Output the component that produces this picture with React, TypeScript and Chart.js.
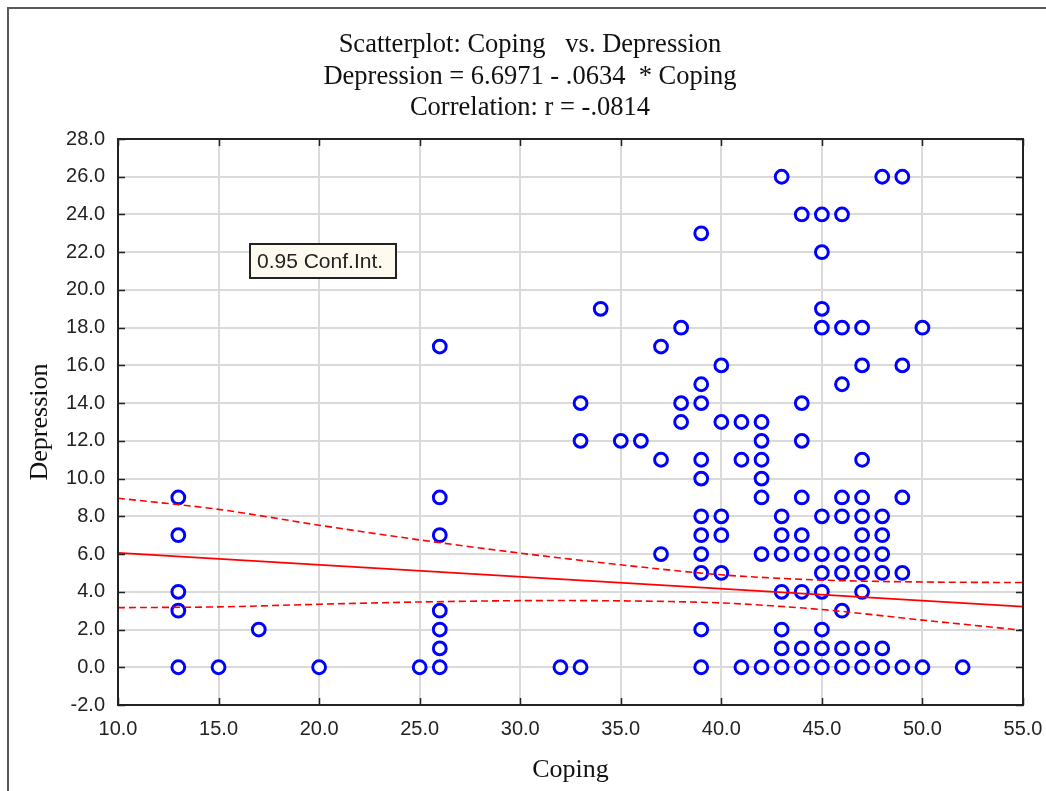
import { useEffect, useRef } from "react";
import { Chart, registerables } from "chart.js";

Chart.register(...registerables);

// Header and axis text
const titleLines = [
  "Scatterplot: Coping   vs. Depression",
  "Depression = 6.6971 - .0634  * Coping",
  "Correlation: r = -.0814",
];
const xAxisTitle = "Coping";
const yAxisTitle = "Depression";
const bandLabel = "0.95 Conf.Int.";

// Observations (paired by index)
const coping = [
  13, 13, 13, 13, 13,
  15, 17, 20, 25,
  26, 26, 26, 26, 26, 26, 26,
  32, 33, 33, 33, 34, 35, 36,
  37, 37, 37,
  38, 38, 38,
  39, 39, 39, 39, 39, 39, 39, 39, 39, 39, 39,
  40, 40, 40, 40, 40,
  41, 41, 41,
  42, 42, 42, 42, 42, 42, 42,
  43, 43, 43, 43, 43, 43, 43, 43,
  44, 44, 44, 44, 44, 44, 44, 44, 44,
  45, 45, 45, 45, 45, 45, 45, 45, 45, 45, 45,
  46, 46, 46, 46, 46, 46, 46, 46, 46, 46,
  47, 47, 47, 47, 47, 47, 47, 47, 47, 47, 47,
  48, 48, 48, 48, 48, 48, 48,
  49, 49, 49, 49, 49,
  50, 50, 52,
];
const depression = [
  0, 3, 4, 7, 9,
  0, 2, 0, 0,
  0, 1, 2, 3, 7, 9, 17,
  0, 0, 12, 14, 19, 12, 12,
  6, 11, 17,
  13, 14, 18,
  0, 2, 5, 6, 7, 8, 10, 11, 14, 15, 23,
  5, 7, 8, 13, 16,
  0, 11, 13,
  0, 6, 9, 10, 11, 12, 13,
  0, 1, 2, 4, 6, 7, 8, 26,
  0, 1, 4, 6, 7, 9, 12, 14, 24,
  0, 1, 2, 4, 5, 6, 8, 18, 19, 22, 24,
  0, 1, 3, 5, 6, 8, 9, 15, 18, 24,
  0, 1, 4, 5, 6, 7, 8, 9, 11, 16, 18,
  0, 1, 5, 6, 7, 8, 26,
  0, 5, 9, 16, 26,
  0, 18, 0,
];

// Fitted line (from the stated equation)
const intercept = 6.6971;
const slope = -0.0634;
const fitRange = [10, 55];

// 0.95 confidence band for the fitted mean
const bandCoping = [10, 15, 20, 25, 30, 35, 40, 45, 50, 55];
const bandUpper = [8.96, 8.37, 7.53, 6.75, 6.05, 5.43, 4.9, 4.62, 4.52, 4.49];
const bandLower = [3.16, 3.2, 3.34, 3.46, 3.53, 3.52, 3.41, 3.06, 2.5, 1.96];

// Axis ranges
const xMin = 10;
const xMax = 55;
const xStep = 5;
const yMin = -2;
const yMax = 28;
const yStep = 2;

const serif = '"Liberation Serif", "Times New Roman", serif';
const sans = '"Liberation Sans", Arial, sans-serif';

const decorations = {
  id: "decorations",
  beforeDraw(chart: any) {
    const { ctx, width, height } = chart;
    ctx.save();
    ctx.fillStyle = "#ffffff";
    ctx.fillRect(0, 0, width, height);
    // outer window frame
    ctx.strokeStyle = "#5a5a5a";
    ctx.lineWidth = 2;
    ctx.beginPath();
    ctx.moveTo(8, height);
    ctx.lineTo(8, 8);
    ctx.lineTo(width, 8);
    ctx.stroke();
    ctx.restore();
  },
  afterDraw(chart: any) {
    const { ctx, chartArea } = chart;
    const { left, right, top, bottom } = chartArea;
    const xs = chart.scales.x;
    const ys = chart.scales.y;
    ctx.save();

    // plot frame
    ctx.strokeStyle = "#222";
    ctx.lineWidth = 2;
    ctx.strokeRect(left, top, right - left, bottom - top);

    // inward tick marks
    ctx.lineWidth = 1.5;
    ctx.beginPath();
    for (let v = yMin; v <= yMax; v += yStep) {
      const py = Math.round(ys.getPixelForValue(v)) + 0.5;
      ctx.moveTo(left, py);
      ctx.lineTo(left + 7, py);
      ctx.moveTo(right - 7, py);
      ctx.lineTo(right, py);
    }
    for (let v = xMin; v <= xMax; v += xStep) {
      const px = Math.round(xs.getPixelForValue(v)) + 0.5;
      ctx.moveTo(px, bottom);
      ctx.lineTo(px, bottom - 7);
      ctx.moveTo(px, top);
      ctx.lineTo(px, top + 7);
    }
    ctx.stroke();

    // header
    ctx.fillStyle = "#111";
    ctx.font = `26.5px ${serif}`;
    ctx.textAlign = "center";
    ctx.textBaseline = "alphabetic";
    const baselines = [52, 83.5, 115];
    titleLines.forEach((line, i) => ctx.fillText(line, 530, baselines[i]));

    // axis titles
    ctx.font = `26px ${serif}`;
    ctx.fillText(xAxisTitle, (left + right) / 2, 777);
    ctx.save();
    ctx.translate(47, (top + bottom) / 2);
    ctx.rotate(-Math.PI / 2);
    ctx.fillText(yAxisTitle, 0, 0);
    ctx.restore();

    // band label box
    const bx = left + 132;
    const by = top + 105;
    const bw = 146;
    const bh = 34;
    ctx.fillStyle = "#fffaf0";
    ctx.fillRect(bx, by, bw, bh);
    ctx.strokeStyle = "#222";
    ctx.lineWidth = 2;
    ctx.strokeRect(bx, by, bw, bh);
    ctx.fillStyle = "#222";
    ctx.font = `21px ${sans}`;
    ctx.textAlign = "left";
    ctx.textBaseline = "middle";
    ctx.fillText(bandLabel, bx + 7, by + bh / 2 + 1);

    ctx.restore();
  },
};

export default function App() {
  const canvasRef = useRef<HTMLCanvasElement | null>(null);

  useEffect(() => {
    document.body.style.margin = "0";
    const canvas = canvasRef.current;
    if (!canvas) return;

    const points = coping.map((c, i) => ({ x: c, y: depression[i] }));
    const fit = fitRange.map((c) => ({ x: c, y: intercept + slope * c }));
    const upper = bandCoping.map((c, i) => ({ x: c, y: bandUpper[i] }));
    const lower = bandCoping.map((c, i) => ({ x: c, y: bandLower[i] }));

    const chart = new Chart(canvas, {
      type: "scatter",
      data: {
        datasets: [
          {
            label: "fit",
            data: fit,
            showLine: true,
            pointRadius: 0,
            borderColor: "#ff0000",
            borderWidth: 1.8,
            order: 1,
          },
          {
            label: "upper",
            data: upper,
            showLine: true,
            pointRadius: 0,
            borderColor: "#ff0000",
            borderWidth: 1.6,
            borderDash: [7, 4],
            tension: 0.3,
            order: 1,
          },
          {
            label: "lower",
            data: lower,
            showLine: true,
            pointRadius: 0,
            borderColor: "#ff0000",
            borderWidth: 1.6,
            borderDash: [7, 4],
            tension: 0.3,
            order: 1,
          },
          {
            label: "Depression",
            data: points,
            pointStyle: "circle",
            pointRadius: 6.4,
            pointBorderWidth: 3,
            pointBorderColor: "#0000ff",
            pointBackgroundColor: "#ffffff",
            borderColor: "#0000ff",
            backgroundColor: "#ffffff",
            order: 2,
          },
        ],
      },
      options: {
        responsive: false,
        animation: false,
        devicePixelRatio: 1,
        layout: { padding: { left: 0, right: 23, top: 139, bottom: 0 } },
        plugins: {
          legend: { display: false },
          tooltip: { enabled: false },
          title: { display: false },
        },
        scales: {
          x: {
            type: "linear",
            min: xMin,
            max: xMax,
            afterFit(scale: any) {
              scale.height = 86;
              scale.paddingLeft = 0;
              scale.paddingRight = 0;
            },
            ticks: {
              stepSize: xStep,
              padding: 12,
              color: "#222",
              font: { family: sans, size: 20 },
              maxRotation: 0,
              callback: (v: any) => Number(v).toFixed(1),
            },
            grid: { color: "#dadada", lineWidth: 2, drawTicks: false },
            border: { display: false },
          },
          y: {
            type: "linear",
            min: yMin,
            max: yMax,
            afterFit(scale: any) {
              scale.width = 118;
              scale.paddingTop = 0;
              scale.paddingBottom = 0;
            },
            ticks: {
              stepSize: yStep,
              padding: 13,
              color: "#222",
              font: { family: sans, size: 20 },
              callback: (v: any) => Number(v).toFixed(1),
            },
            grid: { color: "#dadada", lineWidth: 2, drawTicks: false },
            border: { display: false },
          },
        },
      },
      plugins: [decorations],
    });

    return () => chart.destroy();
  }, []);

  return (
    <div style={{ width: 1046, height: 791 }}>
      <canvas ref={canvasRef} width={1046} height={791} style={{ display: "block" }} />
    </div>
  );
}
